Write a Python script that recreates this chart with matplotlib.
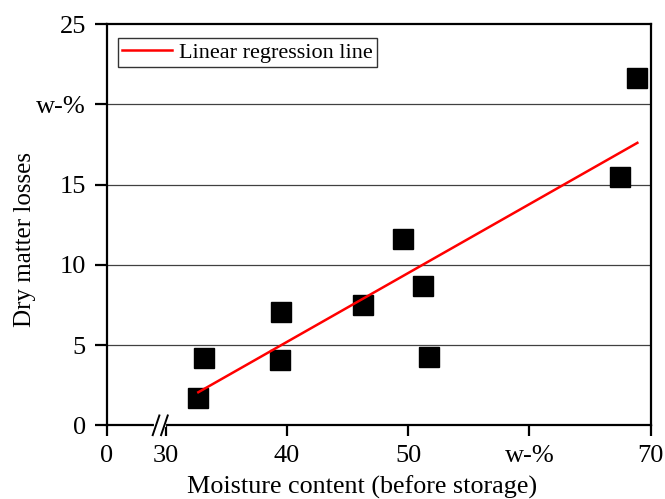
import matplotlib
matplotlib.use('Agg')
import matplotlib.pyplot as plt

plt.rcParams['font.family'] = ['Liberation Serif', 'DejaVu Serif']

# Measured samples: moisture content (w-%) vs dry matter losses (w-%)
moisture = [32.7, 33.2, 39.5, 39.4, 46.3, 49.6, 51.2, 51.7, 67.5, 68.9]
dm_losses = [1.71, 4.20, 7.07, 4.08, 7.52, 11.59, 8.67, 4.28, 15.46, 21.64]

# Regression line endpoints as drawn
reg_x = [32.7, 68.9]
reg_y = [2.07, 17.6]

# Axis break: the "0" tick sits just left of 30
x_zero_pos = 25.15
x_ticks = [x_zero_pos, 30, 40, 50, 60, 70]
x_labels = ['0', '30', '40', '50', 'w-%', '70']
y_ticks = [0, 5, 10, 15, 20, 25]
y_labels = ['0', '5', '10', '15', 'w-%', '25']

fig = plt.figure(figsize=(6.65, 4.99), dpi=100)
ax = fig.add_axes([0.1605, 0.1473, 0.818, 0.8046])

ax.plot(moisture, dm_losses, 's', color='black', markersize=14, zorder=3)
ax.plot(reg_x, reg_y, color='#ff0000', lw=1.8, zorder=4,
        label='Linear regression line')

ax.set_xlim(x_zero_pos, 70)
ax.set_ylim(0, 25)
ax.set_xticks(x_ticks)
ax.set_xticklabels(x_labels)
ax.set_yticks(y_ticks)
ax.set_yticklabels(y_labels)

# horizontal grid lines only
for yv in [5, 10, 15, 20]:
    ax.axhline(yv, color='#404040', lw=0.9, zorder=1)

for s in ax.spines.values():
    s.set_linewidth(1.6)
ax.tick_params(axis='both', direction='out', width=1.6, labelsize=19)
ax.tick_params(axis='x', length=8, pad=6)
ax.tick_params(axis='y', length=9, pad=6)

# break marks on the x axis
tr = ax.get_xaxis_transform()
ax.plot([29.22, 29.88], [0, 0], color='white', lw=3, transform=tr,
        clip_on=False, zorder=5)
ax.plot([28.94, 29.49], [-0.024, 0.025], color='black', lw=1.4,
        transform=tr, clip_on=False, zorder=6)
ax.plot([29.63, 30.18], [-0.024, 0.025], color='black', lw=1.4,
        transform=tr, clip_on=False, zorder=6)

ax.set_xlabel('Moisture content (before storage)', fontsize=18.8)
ax.set_ylabel('Dry matter losses', fontsize=18)
ax.xaxis.set_label_coords(0.47, -0.124)
ax.yaxis.set_label_coords(-0.130, 0.4645)

leg = ax.legend(loc='upper left', bbox_to_anchor=(0.02, 0.966), fontsize=16,
                frameon=True, fancybox=False, borderpad=0.2,
                handlelength=2.25, handletextpad=0.3, borderaxespad=0)
leg.get_frame().set_edgecolor('black')
leg.get_frame().set_linewidth(1.0)

fig.savefig('out.png', dpi=100)
